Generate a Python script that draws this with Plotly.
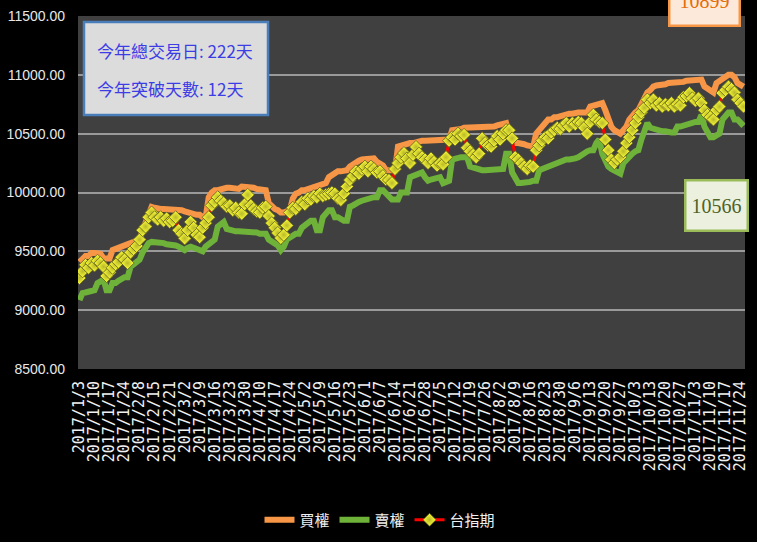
import pandas as pd
import plotly.graph_objects as go

# ---------------- categories (trading days) ----------------
holidays = ["2017-01-25", "2017-01-26", "2017-01-27", "2017-01-30", "2017-01-31",
            "2017-02-01", "2017-02-27", "2017-02-28", "2017-04-03", "2017-04-04",
            "2017-05-01", "2017-05-29", "2017-05-30", "2017-10-04", "2017-10-09",
            "2017-10-10"]
makeup_days = ["2017-02-18", "2017-06-03", "2017-09-30"]
days = pd.bdate_range("2017-01-03", "2017-11-27")
days = days.drop(pd.to_datetime(holidays)).union(pd.to_datetime(makeup_days))
dates = [f"{d.year}/{d.month}/{d.day}" for d in days]
tick_labels = dates[::5]

# ---------------- series ----------------
futures = [
    9273, 9330, 9385, 9360, 9400, 9380, 9420, 9400, 9370, 9290,
    9320, 9360, 9390, 9410, 9450, 9430, 9400, 9490, 9520, 9545,
    9600, 9680, 9710, 9790, 9830, 9790, 9770, 9790, 9760, 9780,
    9750, 9760, 9790, 9680, 9650, 9610, 9680, 9750, 9700, 9640,
    9620, 9700, 9740, 9790, 9890, 9920, 9960, 9930, 9910, 9880,
    9890, 9850, 9870, 9830, 9820, 9900, 9980, 9890, 9860, 9840,
    9830, 9870, 9880, 9800, 9740, 9700, 9656, 9613, 9640, 9720,
    9830, 9870, 9860, 9890, 9920, 9900, 9950, 9940, 9970, 9960,
    9990, 9970, 9980, 9990, 10000, 9990, 9950, 9936, 9990, 10050,
    10106, 10140, 10180, 10160, 10200, 10220, 10180, 10220, 10200, 10170,
    10180, 10140, 10110, 10106, 10080, 10200, 10250, 10300, 10335, 10290,
    10250, 10320, 10387, 10330, 10300, 10280, 10250, 10290, 10260, 10230,
    10250, 10240, 10300, 10440, 10470, 10450, 10500, 10480, 10490, 10380,
    10350, 10320, 10300, 10330, 10460, 10420, 10400, 10390, 10440, 10480,
    10450, 10500, 10530, 10530, 10460, 10300, 10280, 10250, 10220, 10200,
    10230, 10220, 10360, 10400, 10440, 10470, 10460, 10510, 10530, 10550,
    10540, 10570, 10590, 10560, 10590, 10580, 10600, 10590, 10550, 10500,
    10600, 10660, 10620, 10600, 10590, 10450, 10360, 10280, 10250, 10280,
    10300, 10350, 10420, 10470, 10530, 10590, 10640, 10680, 10720, 10790,
    10760, 10790, 10740, 10760, 10730, 10750, 10740, 10760, 10730, 10750,
    10740, 10810, 10820, 10845, 10800, 10780, 10800, 10760, 10700, 10660,
    10640, 10620, 10700, 10730, 10845, 10870, 10900, 10880, 10850, 10790,
    10760, 10730,
]

call_level = [
    9410, 9440, 9460, 9460, 9486, 9486, 9486, 9480, 9440, 9440,
    9440, 9510, 9520, 9530, 9550, 9550, 9570, 9580, 9590, 9600,
    9600, 9680, 9750, 9826, 9877, 9870, 9860, 9860, 9860, 9860,
    9860, 9860, 9860, 9850, 9850, 9840, 9830, 9830, 9810, 9810,
    9810, 9790, 9790, 9960, 10000, 10020, 10020, 10030, 10030, 10040,
    10040, 10040, 10030, 10030, 10050, 10050, 10050, 10040, 10040, 10030,
    10030, 10030, 10020, 9910, 9880, 9860, 9850, 9830, 9830, 9840,
    9850, 9950, 9990, 10000, 10020, 10020, 10030, 10040, 10050, 10060,
    10060, 10070, 10080, 10130, 10150, 10160, 10180, 10180, 10190, 10190,
    10220, 10240, 10250, 10270, 10280, 10280, 10280, 10290, 10290, 10260,
    10240, 10230, 10190, 10190, 10190, 10190, 10390, 10400, 10410, 10410,
    10420, 10420, 10430, 10430, 10440, 10440, 10440, 10450, 10450, 10450,
    10450, 10440, 10450, 10450, 10530, 10530, 10540, 10540, 10550, 10550,
    10550, 10550, 10560, 10560, 10560, 10560, 10560, 10560, 10560, 10570,
    10580, 10590, 10590, 10500, 10460, 10420, 10420, 10420, 10410, 10400,
    10390, 10390, 10500, 10530, 10570, 10600, 10620, 10620, 10640, 10640,
    10650, 10660, 10660, 10670, 10670, 10680, 10680, 10680, 10680, 10680,
    10730, 10740, 10750, 10760, 10760, 10700, 10620, 10560, 10530, 10510,
    10500, 10530, 10560, 10620, 10660, 10680, 10700, 10760, 10820, 10850,
    10870, 10900, 10910, 10910, 10920, 10920, 10930, 10930, 10930, 10930,
    10930, 10940, 10950, 10950, 10960, 10960, 10960, 10960, 10900, 10880,
    10860, 10850, 10930, 10950, 10960, 10980, 11000, 11000, 10980, 10930,
    10910, 10899,
]

put_level = [
    9086, 9145, 9150, 9160, 9160, 9170, 9230, 9250, 9260, 9170,
    9170, 9230, 9230, 9250, 9270, 9280, 9280, 9370, 9390, 9410,
    9430, 9490, 9530, 9570, 9580, 9580, 9570, 9570, 9570, 9560,
    9560, 9550, 9550, 9540, 9520, 9510, 9530, 9540, 9530, 9520,
    9520, 9500, 9540, 9560, 9580, 9600, 9710, 9730, 9750, 9690,
    9680, 9680, 9670, 9670, 9670, 9660, 9660, 9670, 9660, 9660,
    9650, 9650, 9650, 9600, 9580, 9560, 9550, 9510, 9540, 9600,
    9620, 9630, 9650, 9650, 9700, 9720, 9740, 9760, 9760, 9680,
    9680, 9790, 9820, 9850, 9850, 9790, 9790, 9770, 9760, 9760,
    9880, 9890, 9910, 9920, 9930, 9940, 9950, 9950, 9960, 9960,
    10020, 10020, 9990, 9960, 9940, 9940, 9940, 10000, 10000, 10000,
    10130, 10140, 10150, 10170, 10170, 10130, 10100, 10110, 10120, 10130,
    10130, 10080, 10090, 10100, 10280, 10290, 10300, 10300, 10300, 10300,
    10220, 10210, 10200, 10200, 10190, 10190, 10190, 10200, 10190, 10190,
    10190, 10200, 10330, 10330, 10170, 10120, 10080, 10080, 10080, 10080,
    10090, 10100, 10100, 10190, 10200, 10210, 10230, 10240, 10250, 10260,
    10260, 10270, 10280, 10280, 10280, 10290, 10300, 10320, 10340, 10350,
    10360, 10360, 10420, 10450, 10330, 10280, 10220, 10200, 10190, 10170,
    10160, 10250, 10280, 10300, 10330, 10350, 10360, 10450, 10530, 10590,
    10550, 10540, 10530, 10530, 10520, 10520, 10510, 10510, 10510, 10560,
    10560, 10570, 10580, 10590, 10600, 10600, 10600, 10660, 10560, 10500,
    10470, 10470, 10480, 10500, 10620, 10650, 10680, 10680, 10620, 10620,
    10590, 10566,
]

y_ticks = [8500, 9000, 9500, 10000, 10500, 11000, 11500]
info_lines = ["今年總交易日: 222天", "今年突破天數: 12天"]

# ---------------- figure ----------------
W, H = 757, 542
L, R, T, B = 78, 12, 16, 173
pw, ph = W - L - R, H - T - B


def px_x(x):
    return (x - L) / pw


def px_y(y):
    return (H - B - y) / ph


fig = go.Figure()
fig.add_trace(go.Scatter(
    x=dates, y=call_level, name="買權", mode="lines",
    line=dict(color="#f79646", width=6),
))
fig.add_trace(go.Scatter(
    x=dates, y=put_level, name="賣權", mode="lines",
    line=dict(color="#6fb23a", width=6),
))
fig.add_trace(go.Scatter(
    x=dates, y=futures, name="台指期", mode="lines+markers",
    line=dict(color="#ff0000", width=3),
    marker=dict(symbol="diamond", size=10, color="#ffff33",
                gradient=dict(type="radial", color="#b8b82e"),
                line=dict(color="#5e5e1a", width=0.8)),
))

# info box
fig.add_shape(type="rect", xref="paper", yref="paper",
              x0=px_x(84), x1=px_x(268), y0=px_y(115), y1=px_y(22),
              fillcolor="#dcdcdc", line=dict(color="#4a7ebb", width=2.5))
for i, line_text in enumerate(info_lines):
    fig.add_annotation(xref="paper", yref="paper", x=px_x(95), y=px_y(50 + 38 * i),
                       xanchor="left", yanchor="middle", showarrow=False,
                       text=line_text,
                       font=dict(family="Noto Sans CJK TC", size=17, color="#3d3de6"))

# last value labels
fig.add_annotation(xref="paper", yref="paper", x=px_x(704), y=px_y(0),
                   xanchor="center", yanchor="middle", showarrow=False,
                   text=str(call_level[-1]), width=66, height=46,
                   bgcolor="#fde9d9", bordercolor="#f79646", borderwidth=2.5,
                   font=dict(family="Liberation Serif", size=20, color="#e46c0a"))
fig.add_annotation(xref="paper", yref="paper", x=px_x(716), y=px_y(205),
                   xanchor="center", yanchor="middle", showarrow=False,
                   text=str(put_level[-1]), width=58, height=46,
                   bgcolor="#ebf1de", bordercolor="#9bbb59", borderwidth=2.5,
                   font=dict(family="Liberation Serif", size=20, color="#4f6228"))

fig.update_layout(
    width=W, height=H, autosize=False,
    margin=dict(l=L, r=R, t=T, b=B, pad=0, autoexpand=False),
    paper_bgcolor="#000000", plot_bgcolor="#404040",
    showlegend=True,
    legend=dict(orientation="h", x=px_x(380), xanchor="center",
                y=px_y(520), yanchor="middle",
                font=dict(family="Noto Sans CJK TC", size=15, color="#f0f0f0"),
                bgcolor="rgba(0,0,0,0)", itemwidth=30, tracegroupgap=0),
)
fig.update_xaxes(
    type="category", range=[-0.5, len(dates) - 0.5],
    tickmode="array", tickvals=tick_labels, ticktext=tick_labels,
    tickangle=-90, showgrid=False, zeroline=False, showline=False, automargin=False,
    tickfont=dict(family="DejaVu Sans Mono", size=15, color="#f0f0f0"),
    ticks="", ticklabelstandoff=8,
)
fig.update_yaxes(
    range=[8500, 11500], tickmode="array", tickvals=y_ticks, tickformat=".2f",
    showgrid=True, gridcolor="#9a9a9a", gridwidth=2, zeroline=False, automargin=False,
    tickfont=dict(family="Liberation Sans", size=14, color="#e8e8e8"),
    ticks="", ticklabelstandoff=12,
)

fig.write_html("out.html", config={"displayModeBar": False},
               post_script="document.body.style.margin='0px';")
